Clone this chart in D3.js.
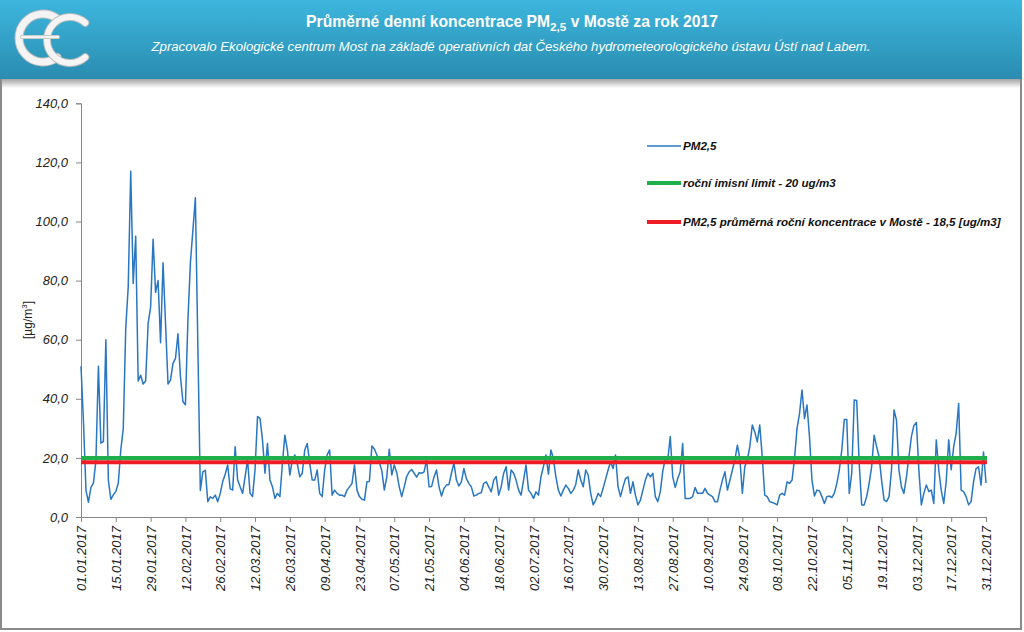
<!DOCTYPE html>
<html><head><meta charset="utf-8">
<script src="https://cdn.jsdelivr.net/npm/d3@7"></script>
<style>body{margin:0;background:#fff}svg{display:block;font-family:"Liberation Sans",Arial,sans-serif}</style>
</head><body>
<svg id="c" width="1024" height="632"></svg>
<script>
const startDate = "01.01.2017";
const pm25 = [
51,32,9,5,10,11.5,19,51,25,25.5,
60,12.5,6,7.5,8.6,11.5,22.6,30,64,78,
117,79,95,46,48,45,46,65.5,71,94,
76,80,59,86,65.5,45,46.3,52,53.7,62,
47.5,39,38,66.6,86,97,108,58,9,15.3,
15.8,5.2,6.8,6.3,7.4,5.2,8,12,14.5,17.6,
9.5,9.1,23.8,12.5,10.2,8,13.6,19.3,8,6.9,
16,34,33.4,26,14.8,24.9,12.5,10.2,6.3,8,
6.9,18,27.7,22.7,14.2,19.3,21,18,13.6,14.8,
22.7,24.9,18.1,12.5,12.5,15.9,8,6.9,15.9,21,
22.7,7.4,9.1,8,7.4,7.4,6.9,9.1,10.2,11.4,
17.6,9.1,6.9,6,5.7,11.9,12,24,23,21,
18.5,15.6,9.1,13.6,22.9,14.2,17.6,15,10.2,6.9,
10.2,13.7,15.3,16.1,14.8,13.5,15,14.8,15.3,19.3,
10.2,10.3,13.6,15.9,10.2,7.1,9.7,10.8,11,14.8,
18.2,12.5,10.5,11.9,16.4,13,11.4,10.2,7.1,7.4,
8,8.2,11.4,11.9,10.2,8.5,12.5,13.7,7.4,10.2,
14.8,17,9.1,15.9,14.8,12.5,9.1,7.4,12.5,17.6,
9.1,8,6.3,8.5,7.4,13.6,17.1,21,14.5,22.7,
19.8,13.6,9.1,7.1,9.1,10.8,9.7,8,9.1,11,
15.9,12.5,10.2,15.9,14.2,8,4.1,5.7,8,6.9,
9.7,12.8,15.9,18.7,16.4,21,10.2,6.9,10.2,13,
13.6,8,11.9,7.4,4.1,5.7,9.1,12.5,14.8,13.6,
14.8,6.9,5.2,8.5,15.5,19.8,19.3,27.2,13.6,10,
13,15.3,24.9,6.3,6.3,6.3,6.9,10,8,8,
8,9.7,8,7.4,6.9,5.2,5.2,9.1,12.5,15.3,
9.1,12.5,15.9,19.3,24.3,19.8,8,17.1,19.3,23.8,
31.1,28.8,25.4,31.1,20.4,7.4,6.9,5.2,4.9,4.6,
4.1,7.4,8,7.4,11.9,11.4,12.5,20,30,35,
43,33.3,37.9,27.2,12.5,7.1,9.1,8.9,6.9,4.6,
6.9,7.1,6.6,8,11.4,15.9,22.7,33,33,8,
14.8,39.6,39.4,18.1,4.1,4.1,6.9,11.4,17,27.7,
23.8,20.4,12.5,5.8,5.2,6.9,16,36.2,32.8,15.9,
10.2,8,13.6,20.4,27.2,31,32,15.9,4.1,8,
10.8,8.6,9.1,4.6,26.1,15.9,9,4.6,12,26.1,
16,23.8,28.3,38.4,9.1,8.6,6.9,4.1,5.2,12,
16.4,17,10.8,22,11.5
];
const limitValue = 20;
const meanValue = 18.5;
const yTickValues = [0,20,40,60,80,100,120,140];
const xTickLabels = ["01.01.2017","15.01.2017","29.01.2017","12.02.2017","26.02.2017","12.03.2017","26.03.2017","09.04.2017","23.04.2017","07.05.2017","21.05.2017","04.06.2017","18.06.2017","02.07.2017","16.07.2017","30.07.2017","13.08.2017","27.08.2017","10.09.2017","24.09.2017","08.10.2017","22.10.2017","05.11.2017","19.11.2017","03.12.2017","17.12.2017","31.12.2017"];
const legendLabels = ["PM2,5","roční imisní limit - 20 ug/m3","PM2,5 průměrná roční koncentrace v Mostě - 18,5 [ug/m3]"];
const titleParts = ["Průměrné denní koncentrace PM","2,5"," v Mostě za rok 2017"];
const subtitle = "Zpracovalo Ekologické centrum Most na základě operativních dat Českého hydrometeorologického ústavu Ústí nad Labem.";
const yTitle = ["[µg/m","3","]"];

const parse = d3.timeParse("%d.%m.%Y");
const t0 = parse(startDate);
const data = pm25.map((v,i)=>({date:d3.timeDay.offset(t0,i), v}));

const svg = d3.select("#c");
const defs = svg.append("defs");
const hg = defs.append("linearGradient").attr("id","hg").attr("x1",0).attr("y1",0).attr("x2",0).attr("y2",1);
hg.append("stop").attr("offset","0%").attr("stop-color","#3db6de");
hg.append("stop").attr("offset","100%").attr("stop-color","#2a8cb0");
const sg = defs.append("linearGradient").attr("id","sg").attr("x1",0).attr("y1",0).attr("x2",0).attr("y2",1);
sg.append("stop").attr("offset","0%").attr("stop-color","#9a9a9a");
sg.append("stop").attr("offset","100%").attr("stop-color","#ffffff");

// frame
svg.append("rect").attr("x",1).attr("y",78).attr("width",1020).attr("height",551).attr("fill","#fff").attr("stroke","#8a8a8a").attr("stroke-width",2);
svg.append("rect").attr("x",2).attr("y",78).attr("width",1018).attr("height",10).attr("fill","url(#sg)");
// header
svg.append("rect").attr("x",0).attr("y",0).attr("width",1022).attr("height",79).attr("fill","url(#hg)");

// logo
const lg = svg.append("g").attr("fill","none").attr("stroke-linecap","round");
function arcPath(cx,cy,r,a0,a1){const p=d3.path();p.arc(cx,cy,r,a0,a1,true);return p.toString();}
const arcs = [
  {cx:43,cy:38,r:24,a0:-Math.PI*0.3,a1:-Math.PI*1.7,w:7},
  {cx:70,cy:40,r:23,a0:-Math.PI*0.27,a1:-Math.PI*1.73,w:6}
];
arcs.forEach(a=>{
  lg.append("path").attr("d",arcPath(a.cx,a.cy,a.r,a.a0,a.a1)).attr("stroke","#bdbdbd").attr("stroke-width",a.w+2);
  lg.append("path").attr("d",arcPath(a.cx,a.cy,a.r,a.a0,a.a1)).attr("stroke","#f4f4f4").attr("stroke-width",a.w);
});
lg.append("line").attr("x1",22).attr("x2",58).attr("y1",37).attr("y2",37).attr("stroke","#bdbdbd").attr("stroke-width",4);
lg.append("line").attr("x1",22).attr("x2",58).attr("y1",37).attr("y2",37).attr("stroke","#f4f4f4").attr("stroke-width",2.5);

function fitWidth(sel, target){
  const w = sel.node().getComputedTextLength();
  const fs = parseFloat(sel.attr("font-size"));
  sel.attr("font-size", fs*target/w);
}
// title
const title = svg.append("text").attr("x",512).attr("y",27).attr("text-anchor","middle").attr("fill","#fff")
  .attr("font-weight","bold").attr("font-size",15);
title.append("tspan").text(titleParts[0]);
title.append("tspan").attr("dy",4).attr("font-size","0.75em").text(titleParts[1]);
title.append("tspan").attr("dy",-4).text(titleParts[2]);
fitWidth(title,412);
const sub = svg.append("text").attr("x",511).attr("y",51).attr("text-anchor","middle").attr("fill","#fff")
  .attr("font-style","italic").attr("font-size",12).text(subtitle);
fitWidth(sub,720);

// scales
const x = d3.scaleTime().domain([t0, data[data.length-1].date]).range([81,986]);
const y = d3.scaleLinear().domain([0,140]).range([517,103.3]);

// y axis
const ya = svg.append("g").attr("transform","translate(81,0)")
  .call(d3.axisLeft(y).tickValues(yTickValues).tickSize(5).tickPadding(8).tickFormat(d=>d3.format(".1f")(d).replace(".",",")));
ya.select(".domain").attr("stroke","#868686");
ya.selectAll(".tick line").attr("stroke","#868686");
ya.selectAll(".tick text").attr("font-size",13).attr("font-style","italic").attr("fill","#222").attr("font-family","Liberation Sans, Arial");

// x axis
const xa = svg.append("g").attr("transform","translate(0,517)")
  .call(d3.axisBottom(x).tickValues(xTickLabels.map(parse)).tickSize(5).tickFormat(d3.timeFormat("%d.%m.%Y")));
xa.select(".domain").attr("stroke","#868686");
xa.selectAll(".tick line").attr("stroke","#868686");
xa.selectAll(".tick text").attr("font-size",13).attr("font-style","italic").attr("fill","#222")
  .attr("font-family","Liberation Sans, Arial")
  .attr("text-anchor","end").attr("transform","rotate(-90)").attr("x",-9).attr("y",0).attr("dy","0.36em");

// y title
const yt = svg.append("text").attr("transform","translate(32,320) rotate(-90)").attr("text-anchor","middle")
  .attr("font-size",12).attr("fill","#222");
yt.append("tspan").text(yTitle[0]);
yt.append("tspan").attr("dy",-5).attr("font-size",8).text(yTitle[1]);
yt.append("tspan").attr("dy",5).text(yTitle[2]);

// data line
const line = d3.line().x(d=>x(d.date)).y(d=>y(d.v));
svg.append("path").datum(data).attr("d",line).attr("fill","none").attr("stroke","#2877c0").attr("stroke-width",1.5).attr("stroke-linejoin","round");

// limit lines
const x0 = x.range()[0], x1 = x.range()[1]+1;
svg.append("line").attr("x1",x0).attr("x2",x1).attr("y1",y(limitValue)).attr("y2",y(limitValue)).attr("stroke","#1fb04c").attr("stroke-width",4);
svg.append("line").attr("x1",x0).attr("x2",x1).attr("y1",y(meanValue)).attr("y2",y(meanValue)).attr("stroke","#ee1c24").attr("stroke-width",4);

// legend
const legY = [146,183,222];
const legStyle = [{c:"#2877c0",w:1.5},{c:"#1fb04c",w:4},{c:"#ee1c24",w:4}];
const legTargets = [31,149,318];
const leg = svg.append("g");
legendLabels.forEach((t,i)=>{
  leg.append("line").attr("x1",647).attr("x2",681).attr("y1",legY[i]).attr("y2",legY[i]).attr("stroke",legStyle[i].c).attr("stroke-width",legStyle[i].w);
});
const lt = leg.selectAll("text.lg").data(legendLabels).join("text").attr("class","lg")
  .attr("x",683).attr("y",(d,i)=>legY[i]+4).attr("font-size",11).attr("font-weight","bold").attr("font-style","italic").attr("fill","#111").text(d=>d);
const longest = lt.filter((d,i)=>i===2);
const fsL = 11*legTargets[2]/longest.node().getComputedTextLength();
lt.attr("font-size",fsL);
</script>
</body></html>
